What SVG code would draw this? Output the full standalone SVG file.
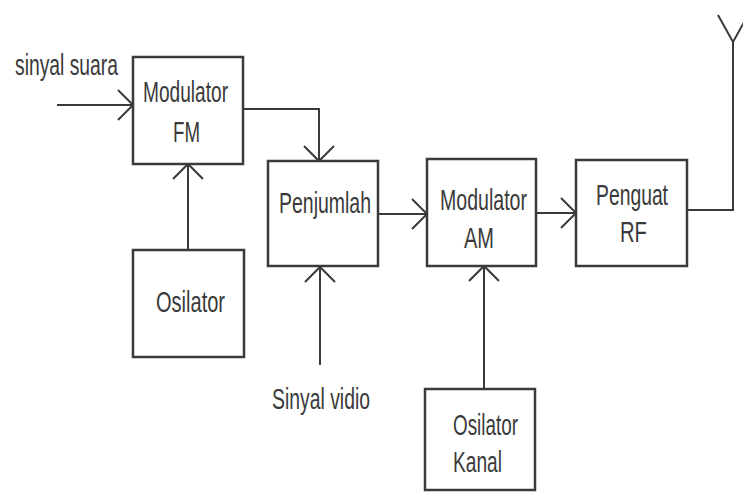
<svg xmlns="http://www.w3.org/2000/svg" width="743" height="492" viewBox="0 0 743 492">
<style>
.box{fill:#fff;stroke:#3a3a3a;stroke-width:2.5}
.ln{fill:none;stroke:#3a3a3a;stroke-width:2}
text{font-family:"Liberation Sans",Arial,sans-serif;font-size:30px;fill:#3a3a3a}
</style>
<defs>
<marker id="ch" markerUnits="userSpaceOnUse" markerWidth="40" markerHeight="40" viewBox="-20 -20 40 40" refX="0" refY="0" orient="auto">
<path d="M-15,-15 L0,0 L-15,15" fill="none" stroke="#3a3a3a" stroke-width="2"/>
</marker>
</defs>
<rect width="743" height="492" fill="#fff"/>
<g id="connectors">
<line class="ln" x1="57" y1="105" x2="133" y2="105" marker-end="url(#ch)"/>
<polyline class="ln" points="243,109 319,109 319,161" marker-end="url(#ch)"/>
<line class="ln" x1="188" y1="250" x2="188" y2="164" marker-end="url(#ch)"/>
<line class="ln" x1="320" y1="365" x2="320" y2="267" marker-end="url(#ch)"/>
<line class="ln" x1="378" y1="214" x2="427" y2="214" marker-end="url(#ch)"/>
<line class="ln" x1="536" y1="213" x2="576" y2="213" marker-end="url(#ch)"/>
<line class="ln" x1="484" y1="389" x2="484" y2="266" marker-end="url(#ch)"/>
<polyline class="ln" points="687,210 733,210 733,42"/>
<polyline class="ln" points="718,15 733,42 748,15"/>
</g>
<g id="label-sinyal-suara"><text x="15" y="75" textLength="103" lengthAdjust="spacingAndGlyphs">sinyal suara</text></g>
<g id="modulator-fm">
<rect class="box" x="133" y="57" width="110" height="107"/>
<text x="143" y="102" textLength="85" lengthAdjust="spacingAndGlyphs">Modulator</text>
<text x="173" y="142" textLength="27" lengthAdjust="spacingAndGlyphs">FM</text>
</g>
<g id="osilator">
<rect class="box" x="133" y="250" width="111" height="107"/>
<text x="156" y="312" textLength="69" lengthAdjust="spacingAndGlyphs">Osilator</text>
</g>
<g id="penjumlah">
<rect class="box" x="268" y="161" width="110" height="105"/>
<text x="279" y="213" textLength="92" lengthAdjust="spacingAndGlyphs">Penjumlah</text>
</g>
<g id="label-sinyal-vidio"><text x="272" y="409" textLength="98" lengthAdjust="spacingAndGlyphs">Sinyal vidio</text></g>
<g id="modulator-am">
<rect class="box" x="427" y="159" width="109" height="107"/>
<text x="440" y="210" textLength="87" lengthAdjust="spacingAndGlyphs">Modulator</text>
<text x="464" y="248" textLength="30" lengthAdjust="spacingAndGlyphs">AM</text>
</g>
<g id="penguat-rf">
<rect class="box" x="576" y="160" width="111" height="106"/>
<text x="596" y="205" textLength="72" lengthAdjust="spacingAndGlyphs">Penguat</text>
<text x="620" y="242" textLength="27" lengthAdjust="spacingAndGlyphs">RF</text>
</g>
<g id="osilator-kanal">
<rect class="box" x="425" y="389" width="110" height="101"/>
<text x="453" y="435" textLength="65" lengthAdjust="spacingAndGlyphs">Osilator</text>
<text x="453" y="472" textLength="49" lengthAdjust="spacingAndGlyphs">Kanal</text>
</g>
</svg>
